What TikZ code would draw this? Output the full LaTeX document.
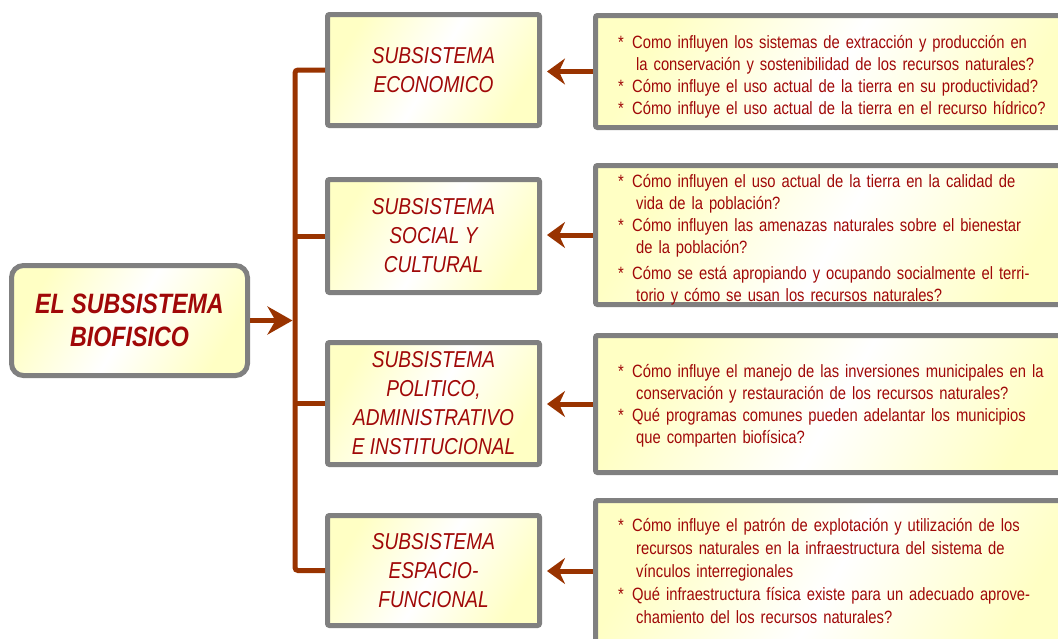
\documentclass[tikz,border=0pt]{standalone}
\usepackage{fontspec}
\setmainfont{Liberation Sans}[FakeStretch=0.83]
\usetikzlibrary{arrows.meta}
\definecolor{txtred}{RGB}{160,8,8}
\definecolor{brn}{RGB}{153,51,0}
\definecolor{bgray}{RGB}{128,128,128}
\definecolor{lyel}{RGB}{255,255,196}
\begin{document}
\begin{tikzpicture}[x=1pt,y=-1pt,
  boxfill/.style={left color=lyel, right color=lyel, middle color=white, shading angle=60},
  mainbox/.style={boxfill, draw=bgray, line width=5pt, rounded corners=12pt,
    minimum width=236pt, minimum height=110pt, align=center, text=txtred,
    font=\fontsize{28}{33}\selectfont\bfseries\itshape},
  subbox/.style={boxfill, draw=bgray, line width=5pt, rounded corners=2pt,
    minimum width=212pt, align=center, text=txtred,
    font=\fontsize{23}{29}\selectfont\itshape},
  qbox/.style={boxfill, draw=bgray, line width=5pt, rounded corners=2pt,
    minimum width=484.5pt},
  qtext/.style={anchor=west, inner sep=0pt, text width=440pt, align=left, text=txtred,
    font=\fontsize{17.8}{22}\selectfont},
  conn/.style={draw=brn, line width=5pt},
  bigtip/.style={-{Stealth[length=25pt,width=28pt,inset=8pt]}},
  smalltip/.style={-{Stealth[length=18pt,width=26pt,inset=6pt]}}
]
\clip (0,0) rectangle (1058,638);
\fill[white] (0,0) rectangle (1058,638);
\newcommand{\st}{\makebox[14pt][l]{*}}
\newcommand{\ind}{\hspace*{18pt}}

% main box
\node[mainbox] (m) at (129.5,320.5) {EL SUBSISTEMA\\BIOFISICO};

% subsystem boxes
\node[subbox, minimum height=111pt] (s1) at (433.5,70) {SUBSISTEMA\\ECONOMICO};
\node[subbox, minimum height=113pt] (s2) at (433.5,236) {SUBSISTEMA\\SOCIAL Y\\CULTURAL};
\node[subbox, minimum height=122pt] (s3) at (433.5,403.5) {SUBSISTEMA\\POLITICO,\\ADMINISTRATIVO\\E INSTITUCIONAL};
\node[subbox, minimum height=110pt] (s4) at (433.5,570.5) {SUBSISTEMA\\ESPACIO-\\FUNCIONAL};

% question boxes
\node[qbox, minimum height=112pt] (q1) at (837.75,71.5) {};
\node[qbox, minimum height=139pt] (q2) at (837.75,235) {};
\node[qbox, minimum height=137pt] (q3) at (837.75,404) {};
\node[qbox, minimum height=141pt] (q4) at (837.75,571) {};

\node[qtext] (q1t) at ([xshift=25pt,yshift=-5pt]q1.west) {%
\st Como influyen los sistemas de extracción y producción en\\
\ind la conservación y sostenibilidad de los recursos naturales?\\
\st Cómo influye el uso actual de la tierra en su productividad?\\
\st Cómo influye el uso actual de la tierra en el recurso hídrico?};

\node[qtext] (q2t) at ([xshift=25pt,yshift=-5pt]q2.west) {%
\st Cómo influyen el uso actual de la tierra en la calidad de\\
\ind vida de la población?\\
\st Cómo influyen las amenazas naturales sobre el bienestar\\
\ind de la población?\\[4pt]
\st Cómo se está apropiando y ocupando socialmente el terri-\\
\ind torio y cómo se usan los recursos naturales?};

\node[qtext] (q3t) at ([xshift=25pt,yshift=-2pt]q3.west) {%
\st Cómo influye el manejo de las inversiones municipales en la\\
\ind conservación y restauración de los recursos naturales?\\
\st Qué programas comunes pueden adelantar los municipios\\
\ind que comparten biofísica?};

\node[qtext, font=\fontsize{17.8}{23}\selectfont] (q4t) at ([xshift=25pt]q4.west) {%
\st Cómo influye el patrón de explotación y utilización de los\\
\ind recursos naturales en la infraestructura del sistema de\\
\ind vínculos interregionales\\
\st Qué infraestructura física existe para un adecuado aprove-\\
\ind chamiento del los recursos naturales?};

% connectors
\coordinate (bt) at (295,70);
\coordinate (bb) at (295,570.5);
\draw[conn, rounded corners=3pt] (s1.west) -- (bt) -- (bb) -- (s4.west);
\draw[conn] (s2.west) -- (s2.west -| bt);
\draw[conn] (s3.west) -- (s3.west -| bt);
\draw[conn, bigtip, shorten >=2.5pt] (m.east) -- (m.east -| bt);

\draw[conn, smalltip, shorten >=5pt] (q1.west) -- (s1.east |- q1.west);
\draw[conn, smalltip, shorten >=5pt] (q2.west) -- (s2.east |- q2.west);
\draw[conn, smalltip, shorten >=5pt] (q3.west) -- (s3.east |- q3.west);
\draw[conn, smalltip, shorten >=5pt] (q4.west) -- (s4.east |- q4.west);
\end{tikzpicture}
\end{document}
